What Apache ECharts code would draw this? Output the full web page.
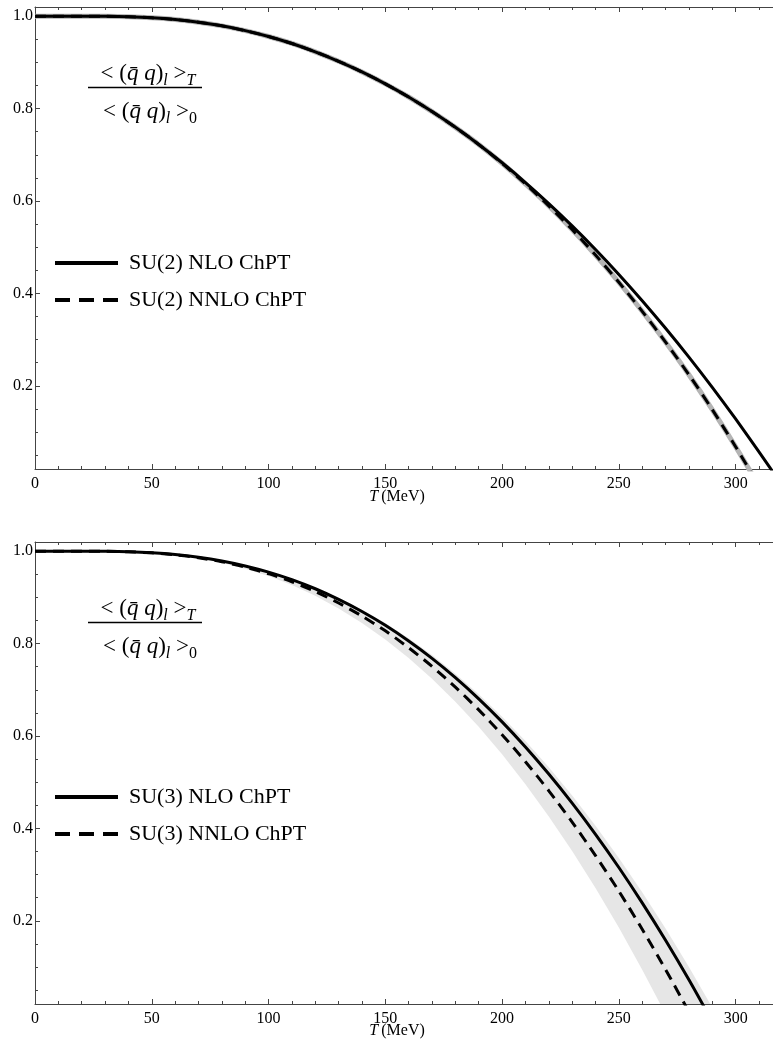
<!DOCTYPE html>
<html>
<head>
<meta charset="utf-8">
<title>Light quark condensate vs T</title>
<script src="https://cdn.jsdelivr.net/npm/echarts@6/dist/echarts.min.js"></script>
<style>
  html, body { margin: 0; padding: 0; background: #fff; }
  #chart { width: 773px; height: 1049px; }
</style>
</head>
<body>
<div id="chart"></div>
<script>
// T in MeV, ratio <qq>_T / <qq>_0
var tempsSU2 = [0, 10, 20, 30, 40, 50, 60, 70, 80, 90, 100, 110, 120, 130, 140, 150, 160,
  170, 180, 190, 200, 210, 220, 230, 240, 250, 260, 270, 280, 290, 300, 310, 320]
var su2Nlo = [1.0, 1.0, 1.0, 0.9998, 0.9989, 0.9967, 0.9929, 0.9871, 0.9792, 0.9689, 0.9562,
  0.9410, 0.9230, 0.9025, 0.8795, 0.8537, 0.8252, 0.7937, 0.7595, 0.7225, 0.6828, 0.6401,
  0.5946, 0.5463, 0.4952, 0.4412, 0.3843, 0.3246, 0.2621, 0.1966, 0.1283, 0.0571, -0.0162]
var su2Nnlo = [1.0, 1.0, 1.0, 0.9998, 0.9989, 0.9967, 0.9929, 0.9871, 0.9792, 0.9689, 0.9562,
  0.9410, 0.9230, 0.9025, 0.8795, 0.8537, 0.8252, 0.7937, 0.7595, 0.7225, 0.6818, 0.6371,
  0.5896, 0.5383, 0.4832, 0.4242, 0.3613, 0.2946, 0.2241, 0.1486, 0.0683, -0.0169, -0.105]

var tempsSU3 = [0, 10, 20, 30, 40, 50, 60, 70, 80, 90, 100, 110, 120, 130, 140, 150, 160,
  170, 180, 190, 200, 210, 220, 230, 240, 250, 260, 270, 280, 290]
var su3Nlo = [1.0, 1.0, 1.0, 0.9998, 0.9989, 0.9967, 0.9929, 0.9870, 0.9789, 0.9682, 0.9548,
  0.9385, 0.9188, 0.8958, 0.8696, 0.8397, 0.8058, 0.7682, 0.7264, 0.6806, 0.6307, 0.5763,
  0.5177, 0.4547, 0.3873, 0.3155, 0.2389, 0.1579, 0.0723, -0.0182]
var su3Nnlo = [1.0, 1.0, 1.0, 0.9998, 0.9988, 0.9965, 0.9924, 0.9860, 0.9773, 0.9658, 0.9514,
  0.9339, 0.9127, 0.8880, 0.8598, 0.8277, 0.7912, 0.7508, 0.7059, 0.6567, 0.6030, 0.5445,
  0.4815, 0.4138, 0.3413, 0.2642, 0.1818, 0.0947, 0.0027, -0.0946]
// NNLO uncertainty band (lower / upper edge)
var su3BandLow = [1.0, 1.0, 1.0, 0.9998, 0.9987, 0.9961, 0.9916, 0.9845, 0.9749, 0.9622, 0.9462,
  0.9268, 0.9034, 0.8760, 0.8448, 0.8092, 0.7689, 0.7242, 0.6744, 0.6199, 0.5605, 0.4958,
  0.4261, 0.3511, 0.2709, 0.1854, 0.0943, -0.0021, -0.1040, -0.2117]
var su3BandHigh = [1.0, 1.0, 1.0, 0.9998, 0.9989, 0.9968, 0.9931, 0.9874, 0.9795, 0.9692, 0.9562,
  0.9403, 0.9212, 0.8989, 0.8735, 0.8445, 0.8116, 0.7752, 0.7346, 0.6902, 0.6418, 0.5890,
  0.5322, 0.4711, 0.4057, 0.3360, 0.2617, 0.1832, 0.1001, 0.0123]

var yMajorTicks = [0.2, 0.4, 0.6, 0.8, 1.0]
var yMinorTicks = [0.05, 0.1, 0.15, 0.25, 0.3, 0.35, 0.45, 0.5, 0.55, 0.65, 0.7, 0.75, 0.85, 0.9, 0.95]
var legendSU2 = ['SU(2) NLO ChPT', 'SU(2) NNLO ChPT']
var legendSU3 = ['SU(3) NLO ChPT', 'SU(3) NNLO ChPT']

var FONT = 'Liberation Serif'
var AXIS_COLOR = '#444'
var PANEL_TOP = [7, 542]
var X_MAX = 316

function pairs(xs, ys) {
  return xs.map(function(x, i) { return [x, ys[i]] })
}

function makeXAxes(grid) {
  var base = {
    gridIndex: grid,
    type: 'value',
    min: 0,
    max: X_MAX,
    interval: 50,
    axisLine: { show: true, onZero: false, lineStyle: { color: AXIS_COLOR, width: 1 } },
    axisTick: { show: true, inside: true, length: 5, lineStyle: { color: AXIS_COLOR } },
    minorTick: { show: true, splitNumber: 5, length: 3, lineStyle: { color: AXIS_COLOR } },
    splitLine: { show: false }
  }
  return [
    Object.assign({}, base, {
      position: 'bottom',
      axisLabel: { show: true, margin: 7, color: '#000', fontFamily: FONT, fontSize: 16, showMaxLabel: false }
    }),
    Object.assign({}, base, { position: 'top', axisLabel: { show: false } })
  ]
}

function makeYAxes(grid) {
  return [{
    gridIndex: grid,
    type: 'value',
    position: 'left',
    min: 0.02,
    max: 1.02,
    axisLine: { show: true, onZero: false, lineStyle: { color: AXIS_COLOR, width: 1 } },
    axisTick: { show: true, inside: true, length: 5, customValues: yMajorTicks, lineStyle: { color: AXIS_COLOR } },
    axisLabel: {
      show: true, margin: 2, color: '#000', fontFamily: FONT, fontSize: 16,
      customValues: yMajorTicks,
      formatter: function(v) { return v.toFixed(1) }
    },
    splitLine: { show: false }
  }, {
    gridIndex: grid,
    type: 'value',
    position: 'left',
    min: 0.02,
    max: 1.02,
    splitNumber: 20,
    axisLine: { show: false },
    axisTick: { show: true, inside: true, length: 3, customValues: yMinorTicks, lineStyle: { color: AXIS_COLOR } },
    axisLabel: { show: false },
    splitLine: { show: false }
  }]
}

function curve(name, xs, ys, axis, dashed, z) {
  return {
    name: name,
    type: 'line',
    xAxisIndex: axis,
    yAxisIndex: axis,
    data: pairs(xs, ys),
    symbol: 'none',
    smooth: 0.25,
    clip: true,
    z: z,
    lineStyle: { color: '#000', width: 3, type: dashed ? [11, 7] : 'solid' },
    itemStyle: { color: '#000' }
  }
}

function fraction(top) {
  var rich = {
    a: { fontFamily: FONT, fontSize: 23, lineHeight: 30, verticalAlign: 'middle', color: '#000' },
    q: { fontFamily: FONT, fontSize: 23, fontStyle: 'italic', lineHeight: 30, verticalAlign: 'middle', color: '#000' },
    s: { fontFamily: FONT, fontSize: 16, fontStyle: 'italic', lineHeight: 20, verticalAlign: 'bottom', color: '#000' },
    s0: { fontFamily: FONT, fontSize: 16, lineHeight: 20, verticalAlign: 'bottom', color: '#000' }
  }
  return [{
    type: 'text',
    x: 148, y: top + 67,
    style: { text: '{a|< (}{q|q\u0304 q}{a|)}{s|l}{a| >}{s|T}', rich: rich, align: 'center', verticalAlign: 'middle' }
  }, {
    type: 'line',
    shape: { x1: 88, y1: top + 80.5, x2: 202, y2: top + 80.5 },
    style: { stroke: '#000', lineWidth: 1.5 }
  }, {
    type: 'text',
    x: 150, y: top + 105,
    style: { text: '{a|< (}{q|q\u0304 q}{a|)}{s|l}{a| >}{s0|0}', rich: rich, align: 'center', verticalAlign: 'middle' }
  }]
}

function axisTitle(y) {
  return {
    type: 'text',
    x: 397, y: y,
    style: {
      text: '{i|T}{r|\u2009(MeV)}',
      align: 'center',
      verticalAlign: 'middle',
      rich: {
        i: { fontFamily: FONT, fontSize: 16, fontStyle: 'italic', color: '#000' },
        r: { fontFamily: FONT, fontSize: 16, color: '#000' }
      }
    }
  }
}

function makeLegend(names, top) {
  return {
    data: [
      { name: names[0] },
      { name: names[1], lineStyle: { type: [15, 9] } }
    ],
    orient: 'vertical',
    left: 48,
    top: top,
    itemWidth: 63,
    itemHeight: 14,
    itemGap: 15,
    selectedMode: false,
    itemStyle: { opacity: 0 },
    lineStyle: { width: 4 },
    textStyle: { fontFamily: FONT, fontSize: 22, lineHeight: 22, color: '#000', padding: [0, 0, 0, 6] }
  }
}

var chart = echarts.init(document.getElementById('chart'), null, { renderer: 'canvas' })

chart.setOption({
  animation: false,
  backgroundColor: '#fff',
  grid: [
    { left: 35, top: PANEL_TOP[0], width: 738, height: 462 },
    { left: 35, top: PANEL_TOP[1], width: 738, height: 462 }
  ],
  xAxis: makeXAxes(0).concat(makeXAxes(1)),
  yAxis: makeYAxes(0).concat(makeYAxes(1)),
  legend: [makeLegend(legendSU2, 247), makeLegend(legendSU3, 781)],
  graphic: fraction(PANEL_TOP[0]).concat(fraction(PANEL_TOP[1])).concat([axisTitle(497), axisTitle(1031)]),
  series: [
    // SU(2): narrow grey band under the NNLO curve
    {
      name: 'SU(2) band',
      type: 'line',
      xAxisIndex: 0,
      yAxisIndex: 0,
      data: pairs(tempsSU2, su2Nnlo),
      symbol: 'none',
      smooth: 0.25,
      clip: true,
      z: 1,
      lineStyle: { color: '#b4b4b4', width: 5 }
    },
    curve(legendSU2[0], tempsSU2, su2Nlo, 0, false, 3),
    curve(legendSU2[1], tempsSU2, su2Nnlo, 0, true, 4),
    // SU(3): NNLO uncertainty band
    {
      name: 'SU(3) band',
      type: 'custom',
      xAxisIndex: 2,
      yAxisIndex: 2,
      clip: true,
      z: 1,
      data: [[0, 1]],
      renderItem: function(params, api) {
        var pts = []
        var i
        for (i = 0; i < tempsSU3.length; i++) pts.push(api.coord([tempsSU3[i], su3BandHigh[i]]))
        for (i = tempsSU3.length - 1; i >= 0; i--) pts.push(api.coord([tempsSU3[i], su3BandLow[i]]))
        var cs = params.coordSys
        return {
          type: 'polygon',
          shape: { points: pts },
          style: { fill: '#e6e6e6' },
          clipPath: { type: 'rect', shape: { x: cs.x, y: cs.y, width: cs.width, height: cs.height } }
        }
      }
    },
    curve(legendSU3[0], tempsSU3, su3Nlo, 2, false, 3),
    curve(legendSU3[1], tempsSU3, su3Nnlo, 2, true, 4)
  ]
})
</script>
</body>
</html>
